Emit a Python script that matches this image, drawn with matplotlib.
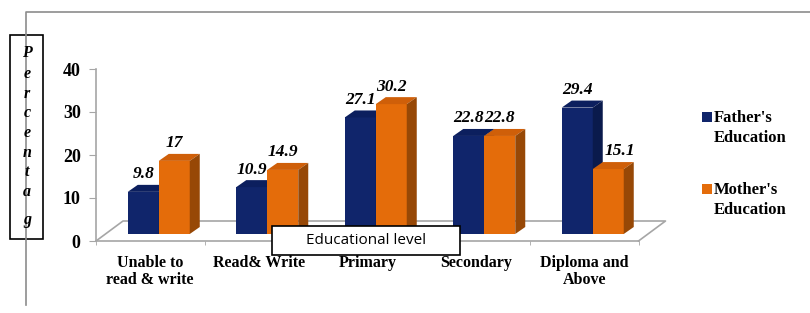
import numpy as np
import matplotlib.pyplot as plt
from matplotlib.patches import Polygon, Rectangle
from matplotlib.lines import Line2D

categories = ["Unable to\nread & write", "Read& Write", "Primary", "Secondary", "Diploma and\nAbove"]
father = [9.8, 10.9, 27.1, 22.8, 29.4]
mother = [17, 14.9, 30.2, 22.8, 15.1]
series_names = ["Father's\nEducation", "Mother's\nEducation"]
y_ticks = [0, 10, 20, 30, 40]
y_title = "Percentag"

W, H = 810, 313
serif = ['Liberation Serif', 'DejaVu Serif']
plt.rcParams['font.family'] = serif

def fx(px):
    return px / W

def fy(py):
    return 1 - py / H

fig = plt.figure(figsize=(W / 100, H / 100), dpi=100)

# axes placed in pixels: y=0 at 241 px, 4.3 px per unit, 108.5 px per category
px_x, px_y = 108.5, 4.3
left, bottom, right, top = 96, 241, 690, 45
ax = fig.add_axes([fx(left), fy(bottom), (right - left) / W, (bottom - top) / H])
ax.set_xlim(-0.5, -0.5 + (right - left) / px_x)
ax.set_ylim(0, (bottom - top) / px_y)
ax.patch.set_alpha(0)

grey = '#a6a6a6'
for s in ['top', 'right']:
    ax.spines[s].set_visible(False)
ax.spines['left'].set_bounds(0, 40)
ax.spines['bottom'].set_bounds(-0.5, 4.5)
for s in ['left', 'bottom']:
    ax.spines[s].set_color(grey)
    ax.spines[s].set_linewidth(1.2)

ax.set_yticks(y_ticks)
ax.set_yticklabels([str(t) for t in y_ticks], fontsize=13, fontweight='bold')
ax.tick_params(axis='y', length=5, color=grey, pad=6)

x = np.arange(len(categories))
ax.set_xticks(x)
ax.set_xticklabels(categories, fontsize=11.5, fontweight='bold', linespacing=1.1)
ax.tick_params(axis='x', which='major', length=0, pad=10)
ax.set_xticks(np.arange(-0.5, 5, 1), minor=True)
ax.tick_params(axis='x', which='minor', length=3, color=grey, direction='out')

# floor of the 3D box
fdx, fdy = 27 / px_x, 20 / px_y
ax.plot([-0.5, -0.5 + fdx, 4.5 + fdx, 4.5], [0, fdy, fdy, 0], color=grey, lw=1.2,
        clip_on=False, zorder=1)

# bars in a plane a bit behind the front edge
sx, sy = 8.5 / px_x, 7 / px_y
bw = 31 / px_x
ddx, ddy = 10 / px_x, 7 / px_y

styles = [
    ('#10256b', '#0c1f5e', '#0a1a4c', father, -1),
    ('#e46c0a', '#cf5f09', '#974806', mother, 0),
]

for i in range(len(categories)):
    for front, topc, side, vals, k in styles:
        v = vals[i]
        x0 = i + sx + k * bw
        x1 = x0 + bw
        y0 = sy
        y1 = sy + v
        ax.bar(x0, v, width=bw, bottom=y0, align='edge', color=front, zorder=3,
               linewidth=0)
        ax.add_patch(Polygon([[x0, y1], [x1, y1], [x1 + ddx, y1 + ddy], [x0 + ddx, y1 + ddy]],
                             closed=True, facecolor=topc, edgecolor='none', zorder=3))
        ax.add_patch(Polygon([[x1, y0], [x1 + ddx, y0 + ddy], [x1 + ddx, y1 + ddy], [x1, y1]],
                             closed=True, facecolor=side, edgecolor='none', zorder=3))
        # label of the shorter right bar is pushed right, clear of the taller left bar
        nudge = 12 / px_x if (k == 0 and father[i] > v) else 0
        ax.text(x0 + bw / 2 + nudge, y1 + ddy + 0.6, f"{v:g}", ha='center', va='bottom',
                fontsize=12.5, fontweight='bold', fontstyle='italic', zorder=4)

# outer frame lines
fig.add_artist(Line2D([fx(26), fx(26), fx(810)], [fy(305), fy(12), fy(12)],
                      color='#8c8c8c', lw=1.2))

# y axis title box, letters stacked one under another
box = Rectangle((fx(10), fy(239)), fx(43) - fx(10), fy(35) - fy(239),
                transform=fig.transFigure, facecolor='white', edgecolor='black', lw=1.2)
fig.add_artist(box)
baselines = [57, 78, 98, 117, 137, 157, 176, 196, 224]
for ch, b in zip(y_title, baselines):
    fig.text(fx(27), fy(b), ch, ha='center', va='baseline', fontsize=11.5,
             fontweight='bold', fontstyle='italic')

# x axis title box
fig.add_artist(Rectangle((fx(272), fy(255)), fx(460) - fx(272), fy(226) - fy(255),
                         transform=fig.transFigure, facecolor='white', edgecolor='black',
                         lw=1.2, zorder=10))
fig.text(fx(366), fy(241), "Educational level", ha='center', va='center', fontsize=11,
         family=['Open Sans', 'DejaVu Sans'], zorder=11)

# legend
for (front, _, _, _, _), name, ty in zip(styles, series_names, [112, 184]):
    fig.add_artist(Rectangle((fx(702), fy(ty + 10)), 10 / W, 10 / H,
                             transform=fig.transFigure, facecolor=front, edgecolor='none'))
    fig.text(fx(714), fy(ty + 16), name, ha='left', va='center', fontsize=12,
             fontweight='bold', linespacing=1.25)

fig.savefig('out.png', dpi=100)
